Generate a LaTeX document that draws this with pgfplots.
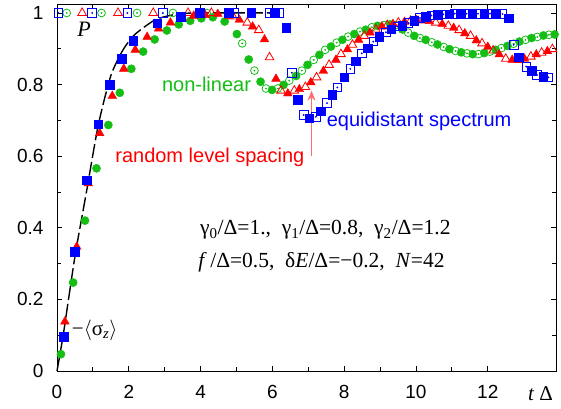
\documentclass[border=0pt]{standalone}
\usepackage{fontspec}
\setmainfont{Liberation Sans}
\newfontfamily\tms{Liberation Serif}
\usepackage{pgfplots}
\pgfplotsset{compat=1.18}
\usepackage{pgfplotstable}
\usetikzlibrary{arrows.meta}

\definecolor{cblue}{RGB}{0,0,255}
\definecolor{cred}{RGB}{255,0,0}
\definecolor{cgreen}{RGB}{20,190,20}
\definecolor{carrow}{RGB}{255,110,110}

% analytic curve (dashed)
\pgfplotstableread{
t y
0 0
0.18 0.105
0.50 0.320
0.82 0.500
1.15 0.687
1.50 0.825
1.84 0.897
2.17 0.940
2.72 0.980
3.20 0.994
3.83 1.000
6.20 1.000
}\bd

% equidistant spectrum
\pgfplotstableread{
t y
0.18 0.096
0.50 0.333
0.82 0.533
1.15 0.689
1.47 0.800
1.80 0.873
2.12 0.922
2.79 0.971
3.44 0.990
3.97 1.000
4.79 1.000
5.41 1.000
6.06 1.000
6.38 0.959
6.70 0.757
7.03 0.706
7.35 0.726
7.67 0.771
8.00 0.820
8.32 0.865
8.66 0.902
8.97 0.933
9.31 0.955
9.62 0.965
9.95 0.979
10.27 0.990
10.60 0.995
10.92 0.997
11.25 0.998
11.57 0.998
11.90 0.998
12.22 0.998
12.58 0.985
12.86 0.876
13.23 0.839
13.54 0.822
}\bf
\pgfplotstableread{
t y
0.04 1.000
0.98 1.000
1.96 1.000
2.95 1.000
3.99 1.000
4.94 1.000
5.92 1.000
6.19 1.000
6.54 0.833
6.87 0.715
7.21 0.710
7.52 0.748
7.81 0.792
8.17 0.844
8.49 0.887
8.81 0.920
9.16 0.946
9.48 0.962
9.79 0.972
10.11 0.986
10.43 0.993
10.76 0.996
11.08 0.998
11.41 0.998
11.73 0.998
12.06 0.998
12.41 0.997
12.72 0.911
13.07 0.850
13.37 0.827
13.69 0.820
}\bo

% random level spacing
\pgfplotstableread{
t y
0.22 0.138
0.55 0.347
0.87 0.524
1.19 0.664
1.54 0.768
1.86 0.844
2.18 0.897
2.51 0.933
2.83 0.956
3.16 0.973
3.49 0.985
3.81 0.992
4.13 0.994
4.48 0.997
4.79 0.992
5.08 0.981
5.45 0.962
5.78 0.926
6.10 0.816
6.43 0.775
6.75 0.787
7.07 0.806
7.42 0.838
7.77 0.869
8.09 0.898
8.40 0.925
8.72 0.945
9.05 0.962
9.36 0.969
9.68 0.975
10.02 0.980
10.37 0.977
10.73 0.969
11.05 0.958
11.36 0.943
11.68 0.923
12.00 0.905
12.32 0.884
12.68 0.869
13.02 0.872
13.35 0.884
13.66 0.893
}\rf
\pgfplotstableread{
t y
0.70 1.000
1.70 1.000
2.68 1.000
3.65 1.000
4.30 1.000
4.90 0.990
5.30 0.973
5.62 0.952
5.92 0.876
6.24 0.783
6.61 0.783
6.92 0.793
7.23 0.820
7.58 0.855
7.91 0.885
8.23 0.911
8.56 0.936
8.88 0.954
9.20 0.966
9.51 0.973
9.85 0.978
10.20 0.979
10.55 0.973
10.90 0.964
11.20 0.952
11.52 0.936
11.84 0.915
12.15 0.895
12.50 0.872
12.85 0.869
13.20 0.878
13.50 0.889
13.80 0.899
}\ro

% non-linear
\pgfplotstableread{
t y
0.11 0.047
0.45 0.247
0.78 0.420
1.10 0.566
1.43 0.687
1.75 0.777
2.07 0.844
2.40 0.892
2.72 0.926
3.06 0.951
3.39 0.968
3.71 0.978
4.02 0.985
4.34 0.988
4.67 0.976
5.01 0.941
5.34 0.870
5.67 0.808
5.99 0.785
6.31 0.799
6.66 0.824
6.98 0.855
7.31 0.883
7.63 0.906
7.95 0.925
8.28 0.941
8.60 0.953
8.93 0.964
9.28 0.968
9.62 0.954
9.95 0.936
10.27 0.925
10.60 0.912
10.93 0.899
11.26 0.890
11.58 0.885
11.90 0.888
12.22 0.897
12.55 0.908
12.88 0.920
13.22 0.930
13.55 0.937
13.86 0.940
}\gf
\pgfplotstableread{
t y
0.27 1.000
1.24 1.000
2.23 1.000
3.23 1.000
4.17 1.000
5.16 0.915
5.50 0.839
5.82 0.789
6.15 0.789
6.47 0.811
6.82 0.839
7.15 0.869
7.47 0.897
7.79 0.917
8.11 0.934
8.44 0.948
8.77 0.960
9.11 0.966
9.44 0.966
9.78 0.945
10.11 0.930
10.44 0.918
10.77 0.905
11.10 0.894
11.42 0.887
11.74 0.885
12.06 0.892
12.38 0.902
12.72 0.914
13.05 0.925
13.38 0.933
13.70 0.939
}\go

\begin{document}
\begin{tikzpicture}
\begin{axis}[
  name=ax,
  scale only axis, width=499bp, height=367bp,
  xmin=0, xmax=13.9, ymin=0, ymax=1.025,
  xtick={0,2,4,6,8,10,12},
  ytick={0,0.2,0.4,0.6,0.8,1},
  minor x tick num=1, minor y tick num=1,
  tick align=inside,
  major tick length=5bp, minor tick length=4bp,
  tick style={black, line width=0.8bp},
  axis line style={line width=0.9bp},
  ticklabel style={font=\fontsize{19bp}{21bp}\selectfont},
  yticklabel style={xshift=-10bp},
  xticklabel style={yshift=-11bp},
  /pgf/number format/assume math mode=true,
  clip=false,
]
\addplot[black, line width=1.4bp, dash pattern=on 14bp off 4bp, smooth, tension=0.4] table {\bd};

% non-linear
\addplot[only marks, mark=o, mark size=3.9bp, cgreen, mark options={line width=0.8bp}] table {\go};
\addplot[only marks, mark=*, mark size=0.7bp, cgreen] table {\go};
\addplot[only marks, mark=*, mark size=4.1bp, cgreen] table {\gf};

% random level spacing
\addplot[only marks, mark=triangle, mark size=5.0bp, cred, mark options={line width=0.8bp}] table {\ro};
\addplot[only marks, mark=triangle*, mark size=5.0bp, cred] table {\rf};

% equidistant spectrum
\addplot[only marks, mark=square, mark size=4.3bp, cblue, mark options={line width=0.8bp}] table {\bo};
\addplot[only marks, mark=*, mark size=0.7bp, cblue] table {\bo};
\addplot[only marks, mark=square*, mark size=4.3bp, cblue] table {\bf};

\draw[carrow, line width=1.2bp, -{Stealth[length=10bp, width=8bp]}] (axis cs:7.09,0.600) -- (axis cs:7.09,0.783);

\node[anchor=base west, inner sep=0, font=\fontsize{20bp}{22bp}\selectfont, text=cgreen] at (axis cs:2.92,0.781) {non-linear};
\node[anchor=base west, inner sep=0, font=\fontsize{20bp}{22bp}\selectfont, text=cblue] at (axis cs:7.51,0.682) {equidistant spectrum};
\node[anchor=base west, inner sep=0, font=\fontsize{20bp}{22bp}\selectfont, text=cred] at (axis cs:1.62,0.581) {random level spacing};

\node[anchor=base west, inner sep=0, font=\tms\fontsize{22bp}{24bp}\selectfont] at (axis cs:0.56,0.933) {\itshape P};
\node[anchor=base west, inner sep=0, font=\tms\fontsize{21bp}{23bp}\selectfont] at (axis cs:0.41,0.100) {−$\langle$σ\textsubscript{\itshape z}$\rangle$};

\node[anchor=base west, inner sep=0, font=\tms\fontsize{21.5bp}{24bp}\selectfont] at (axis cs:3.98,0.380)
  {γ\textsubscript{0}/Δ=1.,\ \ γ\textsubscript{1}/Δ=0.8,\ \ γ\textsubscript{2}/Δ=1.2};
\node[anchor=base west, inner sep=0, font=\tms\fontsize{21.5bp}{24bp}\selectfont] at (axis cs:3.93,0.288)
  {\textit{f}\,/Δ=0.5,\ \ δ\textit{E}/Δ=−0.2,\ \ \textit{N}=42};

\node[anchor=base west, inner sep=0, font=\tms\fontsize{21bp}{23bp}\selectfont] at ([yshift=-29bp]axis cs:13.12,0) {\textit{t}\hspace{5bp}Δ};
\end{axis}
\path ([shift={(-57bp,-38bp)}]ax.south west) rectangle ([shift={(5bp,4bp)}]ax.north east);
\end{tikzpicture}
\end{document}
